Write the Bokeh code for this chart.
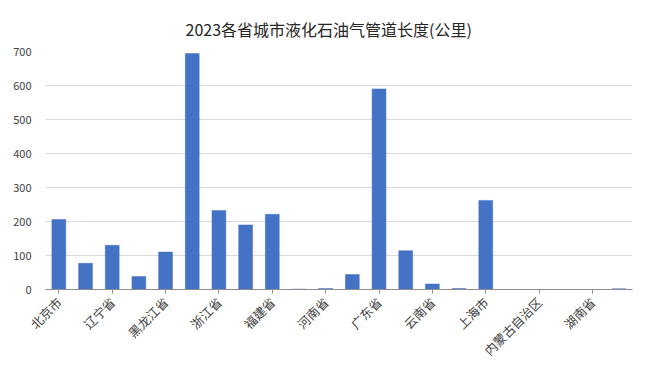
from bokeh.plotting import figure
from bokeh.models import FixedTicker, Range1d, ColumnDataSource
from bokeh.embed import file_html
from bokeh.resources import INLINE
import math

provinces = ["北京市", "天津市", "辽宁省", "吉林省", "黑龙江省", "江苏省", "浙江省", "安徽省",
             "福建省", "江西省", "河南省", "湖北省", "广东省", "广西壮族自治区", "云南省", "四川省",
             "上海市", "山东省", "内蒙古自治区", "山西省", "湖南省", "重庆市"]
lengths = [206, 77, 130, 38, 110, 694, 232, 190, 221, 1, 3, 44, 590, 114, 16, 3, 262, 0, 0, 0, 0, 2]
y_ticks = [0, 100, 200, 300, 400, 500, 600, 700]
title_text = "2023各省城市液化石油气管道长度(公里)"

xs = list(range(len(provinces)))
src = ColumnDataSource(dict(x=xs, v=lengths, name=provinces))

FONT = "Noto Sans CJK SC"
p = figure(width=645, height=375, output_backend="svg", toolbar_location=None,
           x_range=Range1d(-0.5, len(provinces) - 0.5), y_range=Range1d(0, 700),
           min_border_left=45, min_border_right=13, min_border_top=51, min_border_bottom=86)
p.title.text = title_text
p.title.align = "left"
p.title.offset = 140
p.title.vertical_align = "top"
p.title.text_font = FONT
p.title.text_font_size = "16px"
p.title.text_font_style = "normal"
p.title.text_color = "#262626"
p.title.standoff = 18

p.vbar(x="x", top="v", width=0.52, source=src, fill_color="#4472C4", line_color="#4472C4", line_width=0.5)

p.outline_line_color = None
p.xgrid.grid_line_color = None
p.ygrid.grid_line_color = "#d9d9d9"
p.ygrid.grid_line_width = 1

p.xaxis.ticker = FixedTicker(ticks=xs[::2])
p.xaxis.major_label_overrides = {i: provinces[i] for i in xs[::2]}
p.xaxis.major_label_orientation = math.pi / 4
p.xaxis.major_label_text_font = FONT
p.xaxis.major_label_text_font_size = "12.5px"
p.xaxis.major_label_text_color = "#404040"
p.xaxis.axis_line_color = "#8c8c8c"
p.xaxis.major_tick_line_color = "#8c8c8c"
p.xaxis.major_tick_in = 0
p.xaxis.major_tick_out = 4
p.xaxis.minor_tick_line_color = None
p.xaxis.major_label_standoff = 6

p.yaxis.ticker = FixedTicker(ticks=y_ticks)
p.yaxis.axis_line_color = None
p.yaxis.major_tick_line_color = None
p.yaxis.minor_tick_line_color = None
p.yaxis.major_label_text_font = FONT
p.yaxis.major_label_text_font_size = "11px"
p.yaxis.major_label_text_color = "#404040"
p.yaxis.major_label_standoff = 8

open("out.html", "w").write(file_html(p, INLINE))
